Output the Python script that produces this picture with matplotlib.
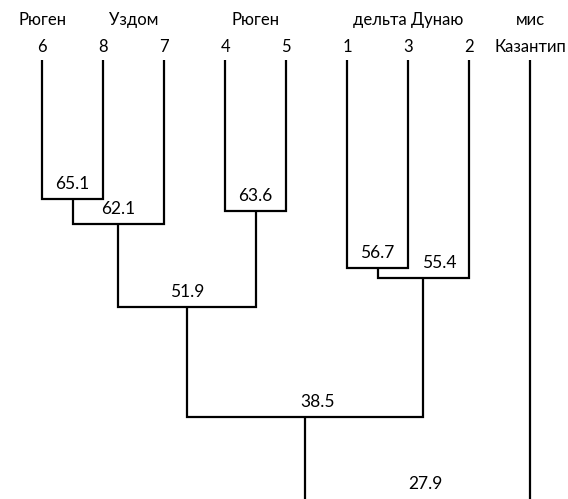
import matplotlib
matplotlib.use("Agg")
import matplotlib.pyplot as plt

# Leaves, left to right
leaf_labels = ["6", "8", "7", "4", "5", "1", "3", "2", "Казантип"]
group_labels = ["Рюген", "Уздом", "Рюген", "дельта Дунаю", "мис"]
group_centers = [0, 1.5, 3.5, 6, 8]  # leaf positions the group names sit over

# Merges: (left node, right node, similarity); nodes >= 9 are earlier merges
merges = [
    (0, 1, 65.1),    # 9  : 6 + 8
    (9, 2, 62.1),    # 10 : (6,8) + 7
    (3, 4, 63.6),    # 11 : 4 + 5
    (10, 11, 51.9),  # 12
    (5, 6, 56.7),    # 13 : 1 + 3
    (13, 7, 55.4),   # 14 : (1,3) + 2
    (12, 14, 38.5),  # 15
    (15, 8, 27.9),   # 16 : root with Казантип
]
leaf_top = 82.1

# label nudges (in leaf units) for a few merge labels
label_dx = {55.4: 0.26, 38.5: 0.2, 27.9: 0.13}
label_dy = {27.9: 14.0}

fig = plt.figure(figsize=(5.68, 4.99), dpi=100)
ax = fig.add_axes([0, 0, 1, 1])
ax.set_xlim(-0.69, 8.62)
ax.set_ylim(28.44, 89.44)
ax.axis("off")

font = ["Lato", "DejaVu Sans"]
lw = 1.6

xpos = {i: float(i) for i in range(len(leaf_labels))}
ypos = {i: leaf_top for i in range(len(leaf_labels))}

for k, (a, b, v) in enumerate(merges):
    node = len(leaf_labels) + k
    xa, xb = xpos[a], xpos[b]
    ax.plot([xa, xa, xb, xb], [ypos[a], v, v, ypos[b]], color="black",
            lw=lw, solid_joinstyle="miter", solid_capstyle="butt")
    xpos[node] = (xa + xb) / 2
    ypos[node] = v
    ax.annotate(f"{v:.1f}", (xpos[node] + label_dx.get(v, 0.0), v),
                xytext=(0, label_dy.get(v, 10.8)), textcoords="offset points",
                ha="center", va="center", fontsize=12.5, family=font,
                annotation_clip=False)

tr = ax.get_xaxis_transform()
for i, lab in enumerate(leaf_labels):
    ax.text(i, 1 - 47 / 499, lab, transform=tr, ha="center", va="center",
            fontsize=12, family=font)
for c, lab in zip(group_centers, group_labels):
    ax.text(c, 1 - 20 / 499, lab, transform=tr, ha="center", va="center",
            fontsize=12, family=font)

fig.savefig("out.png", dpi=100, facecolor="white")
